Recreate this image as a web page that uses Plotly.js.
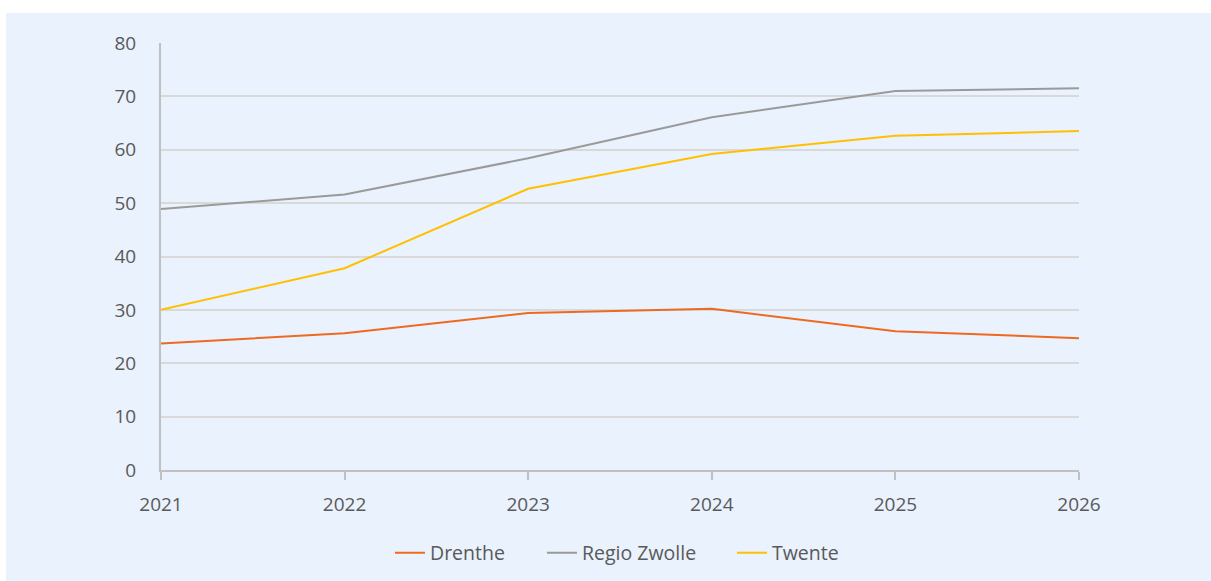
<!DOCTYPE html>
<html>
<head>
<meta charset="utf-8">
<script src="https://cdn.plot.ly/plotly-3.0.1.min.js"></script>
<style>
html,body{margin:0;padding:0;background:#ffffff;width:1211px;height:581px;overflow:hidden;}
#bg{position:absolute;left:6px;top:13px;right:0;bottom:0;background:#EAF2FD;}
#chart{position:absolute;left:0;top:0;width:1211px;height:581px;}
</style>
</head>
<body>
<div id="bg"></div>
<div id="chart"></div>
<script>
const years = ['2021','2022','2023','2024','2025','2026'];
const drenthe = [23.7, 25.6, 29.4, 30.2, 26.0, 24.7];
const regioZwolle = [48.9, 51.6, 58.4, 66.1, 71.0, 71.5];
const twente = [30.0, 37.8, 52.7, 59.2, 62.6, 63.5];
const yTicks = [0,10,20,30,40,50,60,70,80];

const fontFam = 'Open Sans, Noto Sans, sans-serif';
const plotL = 161, plotW = 918, plotB = 470, plotH = 427;
function lx(px){ return (px - plotL) / plotW; }
function ly(px){ return (plotB - px) / plotH; }
const traces = [
  {x: years, y: drenthe, name: 'Drenthe', type: 'scatter', mode: 'lines', line: {color: '#ED6A1E', width: 2}, legend: 'legend'},
  {x: years, y: regioZwolle, name: 'Regio Zwolle', type: 'scatter', mode: 'lines', line: {color: '#9A9A9A', width: 2}, legend: 'legend2'},
  {x: years, y: twente, name: 'Twente', type: 'scatter', mode: 'lines', line: {color: '#FFC000', width: 2}, legend: 'legend3'}
];
const legFont = {family: fontFam, size: 19.5, color: '#595959'};
function leg(px){
  return {orientation: 'h', x: lx(px), xanchor: 'left', y: ly(553), yanchor: 'middle',
          font: legFont, bgcolor: 'rgba(0,0,0,0)', borderwidth: 0};
}
const layout = {
  width: 1211, height: 581,
  margin: {l: 161, r: 132, t: 43, b: 111, pad: 0, autoexpand: false},
  paper_bgcolor: 'rgba(0,0,0,0)',
  plot_bgcolor: 'rgba(0,0,0,0)',
  font: {family: fontFam, size: 18, color: '#595959'},
  showlegend: true,
  legend: leg(390),
  legend2: leg(542),
  legend3: leg(732),
  xaxis: {
    type: 'category', range: [0, 5], showgrid: false, zeroline: false, automargin: false,
    showline: true, linecolor: '#C0C0C0', linewidth: 2,
    ticks: 'outside', ticklen: 8, tickcolor: '#C0C0C0', tickwidth: 2,
    ticklabelstandoff: 8,
    tickfont: {family: fontFam, size: 19, color: '#595959'}
  },
  yaxis: {
    range: [0, 80], tickvals: yTicks, ticktext: yTicks.map(String), automargin: false,
    showgrid: true, gridcolor: '#D9D9D9', gridwidth: 2, zeroline: false,
    showline: true, linecolor: '#C0C0C0', linewidth: 2,
    ticks: 'outside', ticklen: 19, tickcolor: 'rgba(0,0,0,0)',
    tickfont: {family: fontFam, size: 19, color: '#595959'}
  }
};
Plotly.newPlot('chart', traces, layout, {displayModeBar: false, staticPlot: true});
</script>
</body>
</html>
